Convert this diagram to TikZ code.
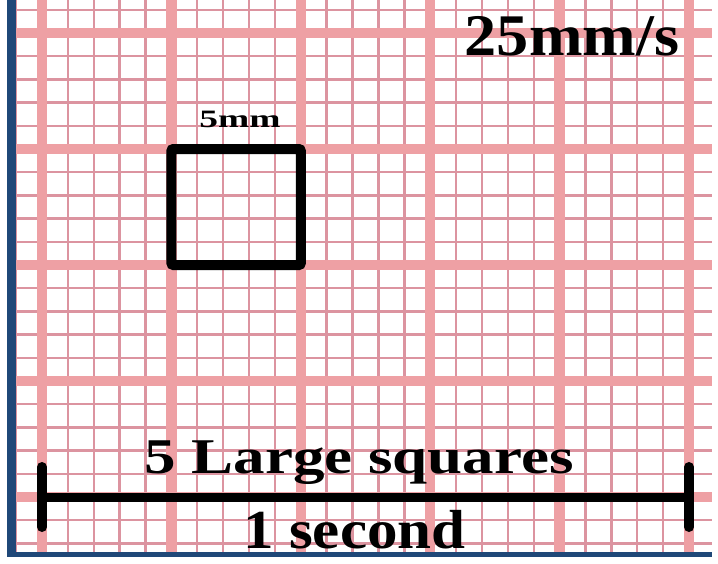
\documentclass[tikz,border=0pt]{standalone}
\usepackage{fontspec}
\setmainfont{Liberation Serif}
\usepackage{xcolor}
\usepackage{tikz}
\definecolor{gridthin}{RGB}{220,148,160}
\definecolor{gridthick}{RGB}{238,160,164}
\definecolor{edgeblue}{RGB}{31,72,120}

\begin{document}
\begin{tikzpicture}[x=1pt,y=-1pt,
    smallgrid/.style={gridthin,line width=2.4pt},
    largegrid/.style={gridthick,line width=10.5pt},
    papertext/.style={inner sep=0pt,anchor=base}]
  \fill[white] (0,0) rectangle (718,563);
  \useasboundingbox (0,0) rectangle (718,563);
  % ECG paper
  \begin{scope}
    \clip (16,0) rectangle (712,552);
    \foreach \i in {-1,...,26}
      \draw[smallgrid] ({42+25.88*\i},0) -- ++(0,552);
    \foreach \j in {-1,...,22}
      \draw[smallgrid] (16,{33+23.2*\j}) -- (712,{33+23.2*\j});
    \foreach \i in {0,...,5}
      \draw[largegrid] ({42+129.4*\i},0) -- ++(0,552);
    \foreach \j in {0,...,4}
      \draw[largegrid] (16,{33+116*\j}) -- (712,{33+116*\j});
  \end{scope}
  \fill[edgeblue] (7,0) rectangle (15.5,556.5);
  \fill[edgeblue] (7,551.5) rectangle (712,556.5);

  \node[draw,line width=10pt,rounded corners=2pt,inner sep=0pt,
    minimum width=129.4pt,minimum height=116pt] (bigsq) at (236.1,207) {};
  \node[papertext,font=\bfseries\fontsize{25}{26}\selectfont,xscale=1.5] (sqlen) at (240,127) {5mm};
  \node[papertext,font=\bfseries\fontsize{59}{60}\selectfont,xscale=1.09] (speed) at (572,55) {25mm/s};

  \coordinate (barL) at (42,497);
  \coordinate (barR) at (689,497);
  \draw[line width=9pt] (barL) -- (barR);
  \draw[line width=10pt,line cap=round] (barL) ++(0,-30) -- ++(0,60);
  \draw[line width=10pt,line cap=round] (barR) ++(0,-30) -- ++(0,60);
  \node[papertext,font=\bfseries\fontsize{50}{52}\selectfont,xscale=1.26] (nsq) at (359,473) {5 Large squares};
  \node[papertext,font=\bfseries\fontsize{55}{56}\selectfont,xscale=1.11] (onesec) at (354.5,548) {1 second};
\end{tikzpicture}
\end{document}
